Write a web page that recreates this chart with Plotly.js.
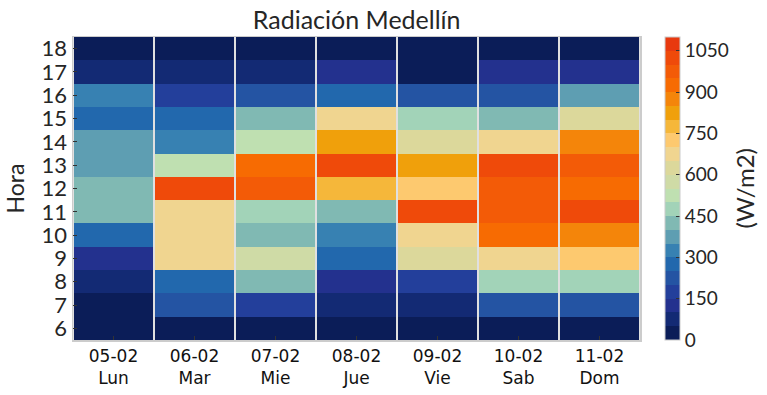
<!DOCTYPE html>
<html>
<head>
<meta charset="utf-8">
<script src="https://cdn.plot.ly/plotly-3.0.1.min.js"></script>
<style>html,body{margin:0;padding:0;background:#fff;}#chart{width:767px;height:395px;}</style>
</head>
<body>
<div id="chart"></div>
<script>
// Horas (filas)
var horas = [6, 7, 8, 9, 10, 11, 12, 13, 14, 15, 16, 17, 18];
// Días (columnas)
var fechas = ["05-02", "06-02", "07-02", "08-02", "09-02", "10-02", "11-02"];
var dias = ["Lun", "Mar", "Mie", "Jue", "Vie", "Sab", "Dom"];
// Radiación (W/m2) por hora, de 6 a 18
var lun = [25, 25, 75, 125, 275, 425, 425, 375, 375, 275, 325, 75, 25];
var mar = [25, 225, 275, 675, 675, 675, 1025, 525, 325, 275, 175, 75, 25];
var mie = [25, 175, 425, 575, 425, 475, 975, 925, 525, 425, 225, 75, 25];
var jue = [25, 75, 125, 275, 325, 425, 775, 1025, 825, 675, 275, 125, 25];
var vie = [25, 75, 175, 625, 675, 1025, 725, 825, 625, 475, 225, 25, 25];
var sab = [25, 225, 475, 675, 925, 975, 975, 1025, 675, 425, 225, 125, 25];
var dom = [25, 225, 475, 725, 875, 1025, 925, 975, 875, 625, 375, 125, 25];
// Niveles de la barra de color
var cbTicks = [0, 150, 300, 450, 600, 750, 900, 1050];
var zMax = 1100;
var colores = ["#0b1d58", "#132a74", "#23318e", "#233f9b", "#2454a3", "#2268ad",
  "#3781b2", "#5e9eb2", "#80b9b3", "#a2d3b8", "#bfe0b1", "#cfdba6", "#dcd89b",
  "#f0d590", "#fdc96f", "#f5b73a", "#f0a00b", "#f4850a", "#f76b02", "#f35b07",
  "#ef4a0a", "#e8390f"];

var series = [lun, mar, mie, jue, vie, sab, dom];
var z = horas.map(function (h, i) { return series.map(function (s) { return s[i]; }); });
var n = colores.length;
var cs = [];
colores.forEach(function (c, i) { cs.push([i / n, c]); cs.push([(i + 1) / n, c]); });
var xIdx = fechas.map(function (f, i) { return i; });
var xText = fechas.map(function (f, i) { return f + "<br>" + dias[i]; });

var trace = {
  type: "heatmap",
  x: xIdx,
  y: horas,
  z: z,
  zmin: 0,
  zmax: zMax,
  colorscale: cs,
  xgap: 2,
  hoverinfo: "z",
  colorbar: {
    x: 1.044, xanchor: "left", xpad: 0,
    y: 0.5, yanchor: "middle", ypad: 0,
    len: 1, lenmode: "fraction",
    thickness: 15,
    outlinecolor: "#cccccc", outlinewidth: 1,
    tickvals: cbTicks,
    ticks: "inside", ticklen: 4, tickcolor: "#333",
    tickfont: {family: "Lato, sans-serif", size: 19, color: "#262626"}
  }
};

var layout = {
  width: 767, height: 395,
  margin: {l: 73, r: 127, t: 37, b: 55},
  paper_bgcolor: "#ffffff",
  plot_bgcolor: "#e0e0e0",
  title: {text: "Radiación Medellín", x: 0.465, xanchor: "center", y: 0.95, yanchor: "middle",
    font: {family: "Lato, sans-serif", size: 25, color: "#262626"}},
  xaxis: {
    tickvals: xIdx, ticktext: xText, range: [-0.5, 6.5],
    ticks: "inside", ticklen: 4, tickcolor: "#333",
    showgrid: false, zeroline: false,
    showline: true, mirror: true, linecolor: "#cccccc", linewidth: 1.5,
    tickfont: {family: "DejaVu Sans, sans-serif", size: 17, color: "#111"}
  },
  yaxis: {
    tickvals: horas, range: [5.5, 18.5],
    ticks: "inside", ticklen: 4, tickcolor: "#333",
    showgrid: false, zeroline: false,
    showline: true, mirror: true, linecolor: "#cccccc", linewidth: 1.5,
    tickfont: {family: "Lato, sans-serif", size: 22, color: "#262626"},
    title: {text: "Hora", standoff: 10, font: {family: "Lato, sans-serif", size: 23, color: "#262626"}}
  },
  annotations: [{
    text: "(W/m2)", xref: "paper", yref: "paper", x: 1.185, y: 0.5,
    xanchor: "center", yanchor: "middle", textangle: -90, showarrow: false,
    font: {family: "Lato, sans-serif", size: 24, color: "#262626"}
  }]
};

Plotly.newPlot("chart", [trace], layout, {displayModeBar: false, staticPlot: true});
</script>
</body>
</html>
